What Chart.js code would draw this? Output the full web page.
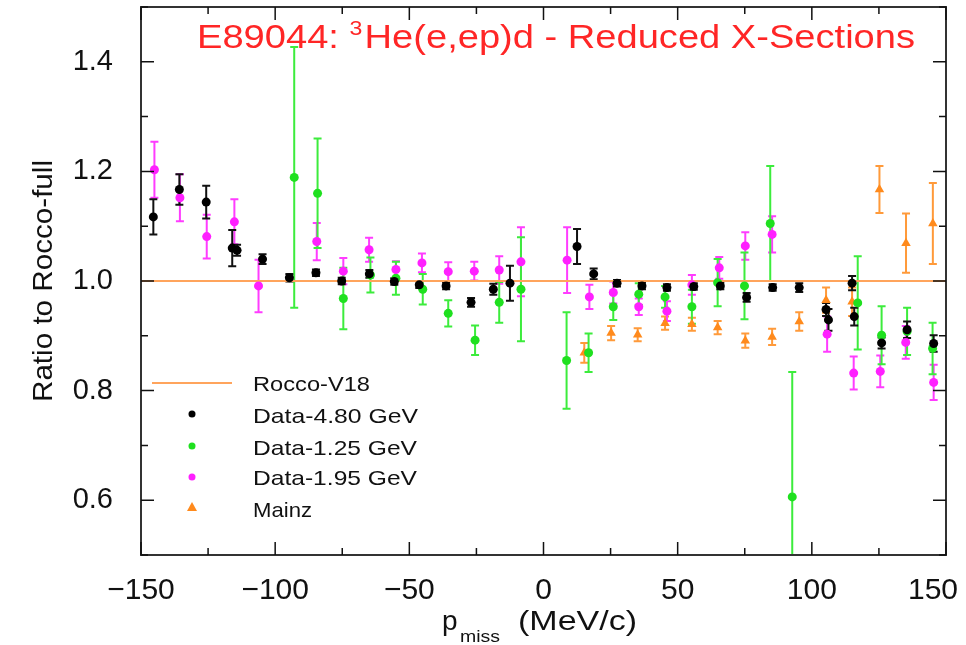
<!DOCTYPE html>
<html><head><meta charset="utf-8">
<script src="https://cdn.jsdelivr.net/npm/chart.js@4"></script>
<style>html,body{margin:0;padding:0;background:#fff;}canvas{display:block;}</style>
</head><body>
<canvas id="c" width="966" height="645"></canvas>
<script>
// ---------- data ----------
const xTicks = [-150, -100, -50, 0, 50, 100, 150];
const yTicks = [0.6, 0.8, 1.0, 1.2, 1.4];

const roccoX = [-150, 150];
const roccoY = [1.0, 1.0];

const d480X = [-145.4, -135.7, -125.7, -116.0, -114.2, -104.7, -94.7, -84.8, -75.2, -64.9, -55.6, -46.3, -36.3, -27.0, -18.7, -12.5, 12.5, 18.7, 27.4, 36.7, 46.0, 56.0, 65.9, 75.7, 85.4, 95.3, 105.3, 106.2, 115.0, 115.8, 126.0, 135.5, 145.4];
const d480Y = [1.117, 1.167, 1.144, 1.060, 1.056, 1.040, 1.006, 1.015, 1.000, 1.013, 0.999, 0.993, 0.991, 0.961, 0.985, 0.996, 1.063, 1.013, 0.996, 0.991, 0.988, 0.990, 0.991, 0.970, 0.988, 0.988, 0.948, 0.929, 0.996, 0.935, 0.887, 0.911, 0.886];
const d480E = [0.032, 0.028, 0.030, 0.033, 0.010, 0.009, 0.007, 0.006, 0.006, 0.007, 0.006, 0.006, 0.006, 0.008, 0.010, 0.032, 0.032, 0.010, 0.006, 0.006, 0.006, 0.006, 0.006, 0.008, 0.006, 0.008, 0.012, 0.020, 0.013, 0.016, 0.010, 0.015, 0.015];

const d125X = [-92.9, -84.2, -74.6, -64.5, -55.0, -45.0, -35.5, -25.5, -16.5, -8.4, 8.6, 16.8, 26.0, 35.5, 45.3, 55.3, 64.9, 74.9, 84.5, 92.7, 117.1, 126.0, 135.5, 145.0];
const d125Y = [1.189, 1.160, 0.968, 1.011, 1.005, 0.985, 0.941, 0.892, 0.961, 0.985, 0.855, 0.869, 0.953, 0.976, 0.971, 0.953, 0.997, 0.991, 1.105, 0.606, 0.960, 0.901, 0.908, 0.877];
const d125E = [0.238, 0.100, 0.056, 0.032, 0.030, 0.028, 0.024, 0.027, 0.037, 0.095, 0.088, 0.035, 0.024, 0.020, 0.020, 0.031, 0.043, 0.061, 0.105, 0.228, 0.085, 0.053, 0.043, 0.047];

const d195X = [-145.0, -135.5, -125.5, -115.2, -106.2, -84.5, -74.6, -65.0, -55.0, -45.3, -35.5, -25.8, -16.5, -8.4, 8.8, 17.1, 26.0, 35.5, 46.0, 55.3, 65.5, 75.2, 85.2, 105.7, 115.6, 125.5, 135.0, 145.4];
const d195Y = [1.203, 1.152, 1.081, 1.108, 0.991, 1.072, 1.018, 1.057, 1.021, 1.033, 1.017, 1.018, 1.020, 1.035, 1.038, 0.971, 0.979, 0.953, 0.945, 0.993, 1.024, 1.064, 1.085, 0.903, 0.832, 0.835, 0.888, 0.815];
const d195E = [0.051, 0.043, 0.040, 0.041, 0.048, 0.034, 0.024, 0.022, 0.015, 0.017, 0.017, 0.017, 0.025, 0.063, 0.060, 0.022, 0.020, 0.015, 0.018, 0.018, 0.020, 0.025, 0.033, 0.032, 0.030, 0.029, 0.030, 0.032];

const mainzX = [15.2, 25.2, 35.1, 45.3, 55.3, 64.9, 75.2, 85.2, 95.3, 105.3, 115.0, 125.2, 135.1, 145.1];
const mainzY = [0.869, 0.905, 0.902, 0.923, 0.921, 0.915, 0.891, 0.898, 0.926, 0.965, 0.962, 1.167, 1.069, 1.105];
const mainzE = [0.018, 0.013, 0.012, 0.012, 0.012, 0.012, 0.013, 0.015, 0.017, 0.023, 0.026, 0.043, 0.054, 0.074];

const titleParts = ['E89044: ', '3', 'He(e,ep)d - Reduced X-Sections'];
const yTitle = 'Ratio to Rocco-full';
const xTitleParts = ['p', 'miss', '(MeV/c)'];
const legendLabels = ['Rocco-V18', 'Data-4.80 GeV', 'Data-1.25 GeV', 'Data-1.95 GeV', 'Mainz'];

// ---------- helpers ----------
const FONT = '"Liberation Sans", Arial, sans-serif';
const pts = (xs, ys) => xs.map((x, i) => ({x: x, y: ys[i]}));
const fmtX = v => v < 0 ? '\u2212' + Math.abs(v) : String(v);
function fitText(ctx, text, x, y, font, targetW) {
  ctx.font = font;
  const w = ctx.measureText(text).width;
  const s = targetW ? targetW / w : 1;
  ctx.save(); ctx.translate(x, y); ctx.scale(s, 1); ctx.fillText(text, 0, 0); ctx.restore();
}

const COL_BLACK = '#000000', COL_GREEN = '#1fe01f', COL_MAG = '#ff20ff', COL_ORANGE = '#ff8a1c', COL_LINE = '#ffa45c';

const errorBars = {
  id: 'errorBars',
  beforeDatasetsDraw(chart) {
    const ctx = chart.ctx, xs = chart.scales.x, ys = chart.scales.y, a = chart.chartArea;
    ctx.save();
    ctx.beginPath(); ctx.rect(a.left, a.top, a.right - a.left, a.bottom - a.top); ctx.clip();
    [4, 3, 2, 1].forEach(di => {
      const ds = chart.data.datasets[di];
      if (!ds.errors) return;
      ctx.strokeStyle = ds.errColor; ctx.lineWidth = 2;
      ds.data.forEach((p, i) => {
        const e = ds.errors[i];
        const px = xs.getPixelForValue(p.x);
        const y1 = ys.getPixelForValue(p.y + e), y2 = ys.getPixelForValue(p.y - e);
        ctx.beginPath();
        ctx.moveTo(px, y1); ctx.lineTo(px, y2);
        ctx.moveTo(px - 4, y1); ctx.lineTo(px + 4, y1);
        ctx.moveTo(px - 4, y2); ctx.lineTo(px + 4, y2);
        ctx.stroke();
      });
    });
    ctx.restore();
  }
};

const decorations = {
  id: 'decorations',
  afterDraw(chart) {
    const ctx = chart.ctx, xs = chart.scales.x, ys = chart.scales.y, a = chart.chartArea;
    ctx.save();
    // frame
    ctx.strokeStyle = '#333'; ctx.lineWidth = 2;
    ctx.strokeRect(a.left, a.top, a.right - a.left, a.bottom - a.top);
    // inward ticks
    ctx.lineWidth = 1.5; ctx.strokeStyle = '#111';
    for (let v = -150; v <= 150; v += 25) {
      const px = xs.getPixelForValue(v);
      const L = (v % 50 === 0) ? 13 : 7;
      ctx.beginPath();
      ctx.moveTo(px, a.bottom); ctx.lineTo(px, a.bottom - L);
      ctx.moveTo(px, a.top); ctx.lineTo(px, a.top + L);
      ctx.stroke();
    }
    for (let k = 5; k <= 15; k++) {
      const py = ys.getPixelForValue(k / 10);
      const L = (k % 2 === 0) ? 13 : 7;
      ctx.beginPath();
      ctx.moveTo(a.left, py); ctx.lineTo(a.left + L, py);
      ctx.moveTo(a.right, py); ctx.lineTo(a.right - L, py);
      ctx.stroke();
    }
    // x tick labels (positioned by the x scale, kept inside the canvas)
    ctx.fillStyle = '#111'; ctx.textAlign = 'center'; ctx.textBaseline = 'alphabetic';
    ctx.font = '30px ' + FONT;
    xTicks.forEach(v => {
      const t = fmtX(v);
      const w = ctx.measureText(t).width;
      let px = xs.getPixelForValue(v);
      px = Math.min(px, chart.width - 8 - w / 2);
      ctx.fillText(t, px, 599);
    });
    // title (red, inside plot)
    ctx.fillStyle = '#ff2626'; ctx.textAlign = 'left';
    const f1 = '33px ' + FONT, f2 = '20px ' + FONT;
    ctx.font = f1; const w1 = ctx.measureText(titleParts[0]).width; const w3 = ctx.measureText(titleParts[2]).width;
    ctx.font = f2; const w2 = ctx.measureText(titleParts[1]).width;
    const s = 718 / (w1 + w2 + 2 + w3);
    ctx.save(); ctx.translate(197, 48); ctx.scale(s, 1);
    ctx.font = f1; ctx.fillText(titleParts[0], 0, 0);
    ctx.font = f2; ctx.fillText(titleParts[1], w1, -13);
    ctx.font = f1; ctx.fillText(titleParts[2], w1 + w2 + 2, 0);
    ctx.restore();
    // y title
    ctx.fillStyle = '#111';
    ctx.save(); ctx.translate(52, 281); ctx.rotate(-Math.PI / 2);
    ctx.textAlign = 'center';
    ctx.font = '28px ' + FONT;
    const wy = ctx.measureText(yTitle).width;
    ctx.scale(242 / wy, 1); ctx.fillText(yTitle, 0, 0);
    ctx.restore();
    // x title
    ctx.textAlign = 'left';
    fitText(ctx, xTitleParts[0], 442, 630, '28px ' + FONT, 0);
    fitText(ctx, xTitleParts[1], 460, 642, '16px ' + FONT, 40);
    fitText(ctx, xTitleParts[2], 518, 630, '28px ' + FONT, 119);
    // legend
    ctx.strokeStyle = COL_LINE; ctx.lineWidth = 2;
    ctx.beginPath(); ctx.moveTo(152, 383); ctx.lineTo(232, 383); ctx.stroke();
    const rows = [[414, COL_BLACK, 'c'], [446, COL_GREEN, 'c'], [477, COL_MAG, 'c'], [507, COL_ORANGE, 't']];
    rows.forEach(r => {
      ctx.fillStyle = r[1];
      ctx.beginPath();
      if (r[2] === 'c') { ctx.arc(192, r[0], 3.5, 0, Math.PI * 2); }
      else { ctx.moveTo(192, r[0] - 5); ctx.lineTo(197, r[0] + 4); ctx.lineTo(187, r[0] + 4); ctx.closePath(); }
      ctx.fill();
    });
    ctx.fillStyle = '#111';
    const lf = '21px ' + FONT;
    fitText(ctx, legendLabels[0], 253, 391, lf, 117);
    fitText(ctx, legendLabels[1], 253, 423, lf, 165);
    fitText(ctx, legendLabels[2], 253, 455, lf, 164);
    fitText(ctx, legendLabels[3], 253, 485, lf, 164);
    fitText(ctx, legendLabels[4], 253, 517, lf, 59);
    ctx.restore();
  }
};

new Chart(document.getElementById('c'), {
  type: 'scatter',
  data: {
    datasets: [
      { type: 'line', label: legendLabels[0], data: pts(roccoX, roccoY), borderColor: COL_LINE, borderWidth: 2, pointRadius: 0, showLine: true, order: 5 },
      { label: legendLabels[1], data: pts(d480X, d480Y), errors: d480E, errColor: '#111', backgroundColor: COL_BLACK, borderColor: COL_BLACK, pointRadius: 4.5, borderWidth: 0, order: 1 },
      { label: legendLabels[2], data: pts(d125X, d125Y), errors: d125E, errColor: '#3cec3c', backgroundColor: COL_GREEN, borderColor: COL_GREEN, pointRadius: 4.5, borderWidth: 0, order: 3 },
      { label: legendLabels[3], data: pts(d195X, d195Y), errors: d195E, errColor: '#ff3cff', backgroundColor: COL_MAG, borderColor: COL_MAG, pointRadius: 4.5, borderWidth: 0, order: 2 },
      { label: legendLabels[4], data: pts(mainzX, mainzY), errors: mainzE, errColor: '#ff9a3a', backgroundColor: COL_ORANGE, borderColor: COL_ORANGE, pointStyle: 'triangle', pointRadius: 5.5, borderWidth: 0, order: 4 }
    ]
  },
  options: {
    responsive: false, animation: false, devicePixelRatio: 1,
    layout: { padding: { top: 7, right: 20, left: 0, bottom: 0 } },
    plugins: { legend: { display: false }, tooltip: { enabled: false }, title: { display: false } },
    scales: {
      x: {
        type: 'linear', min: -150, max: 150, position: 'bottom',
        grid: { display: false, drawTicks: false }, border: { display: false },
        afterBuildTicks: s => { s.ticks = xTicks.map(v => ({value: v})); },
        ticks: { display: false, callback: fmtX },
        afterFit: s => { s.height = 90; s.paddingLeft = 0; s.paddingRight = 0; }
      },
      y: {
        type: 'linear', min: 0.5, max: 1.5,
        grid: { display: false, drawTicks: false }, border: { display: false },
        afterBuildTicks: s => { s.ticks = yTicks.map(v => ({value: v})); },
        ticks: { font: { family: FONT, size: 29 }, color: '#111', padding: 28, autoSkip: false,
          callback: v => Number(v).toFixed(1) },
        afterFit: s => { s.width = 141; s.paddingTop = 0; s.paddingBottom = 0; }
      }
    }
  },
  plugins: [errorBars, decorations]
});
</script>
</body></html>
